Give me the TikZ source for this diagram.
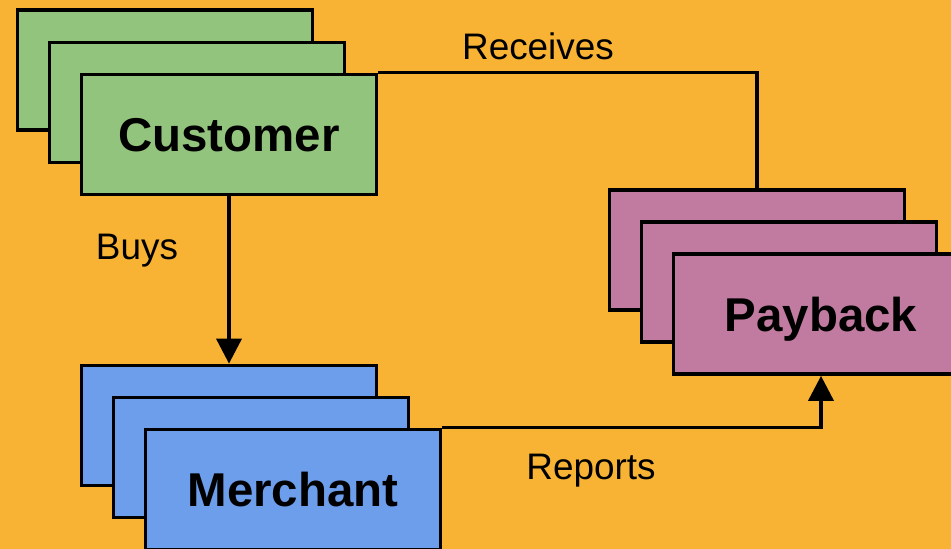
\documentclass[tikz,border=0pt]{standalone}
\usepackage{fontspec}
\setmainfont{Liberation Sans}
\usetikzlibrary{arrows.meta}
\definecolor{bgorange}{HTML}{F8B334}
\definecolor{custgreen}{HTML}{93C47D}
\definecolor{merchblue}{HTML}{6D9EEB}
\definecolor{paypink}{HTML}{C27BA0}
\begin{document}
\begin{tikzpicture}[
        box/.style={draw, line width=2.1pt, minimum width=5.9cm, minimum height=2.4cm,
            inner sep=0pt, text depth=0pt, font=\fontsize{27}{32}\selectfont\bfseries},
        lbl/.style={font=\fontsize{21}{25}\selectfont},
        link/.style={line width=2.1pt},
        tip/.style={-{Triangle[length=0.5cm,width=0.5cm]}}
    ]
            \clip (0,0) rectangle (19.02,10.98);
            \fill[bgorange] (0,0) rectangle (19.02,10.98);

            \node[box, fill=custgreen] at (3.30,9.58) (C3) {};
            \node[box, fill=custgreen] at (3.94,8.93) (C2) {};
            \node[box, fill=custgreen] at (4.58,8.29) (C) {Customer};

            \node[box, fill=merchblue] at (4.58,2.47) (M3) {};
            \node[box, fill=merchblue] at (5.22,1.83) (M2) {};
            \node[box, fill=merchblue] at (5.86,1.19) (M) {Merchant};

            \node[box, fill=paypink] at (15.14,5.98) (P3) {};
            \node[box, fill=paypink] at (15.78,5.34) (P2) {};
            \node[box, fill=paypink] at (16.42,4.70) (P) {Payback};

            \node[lbl] at (2.74,5.96) (buys) {Buys};
            \node[lbl] at (10.76,10.06) (receives) {Receives};
            \node[lbl] at (11.82,1.56) (reports) {Reports};

            \draw[link, tip] (C.south) -- (M3.north);
            \draw[link] (C.north east) -| (P3.north);
            \draw[link, tip] (M.north east) -| (P.south);
        \end{tikzpicture}
\end{document}
